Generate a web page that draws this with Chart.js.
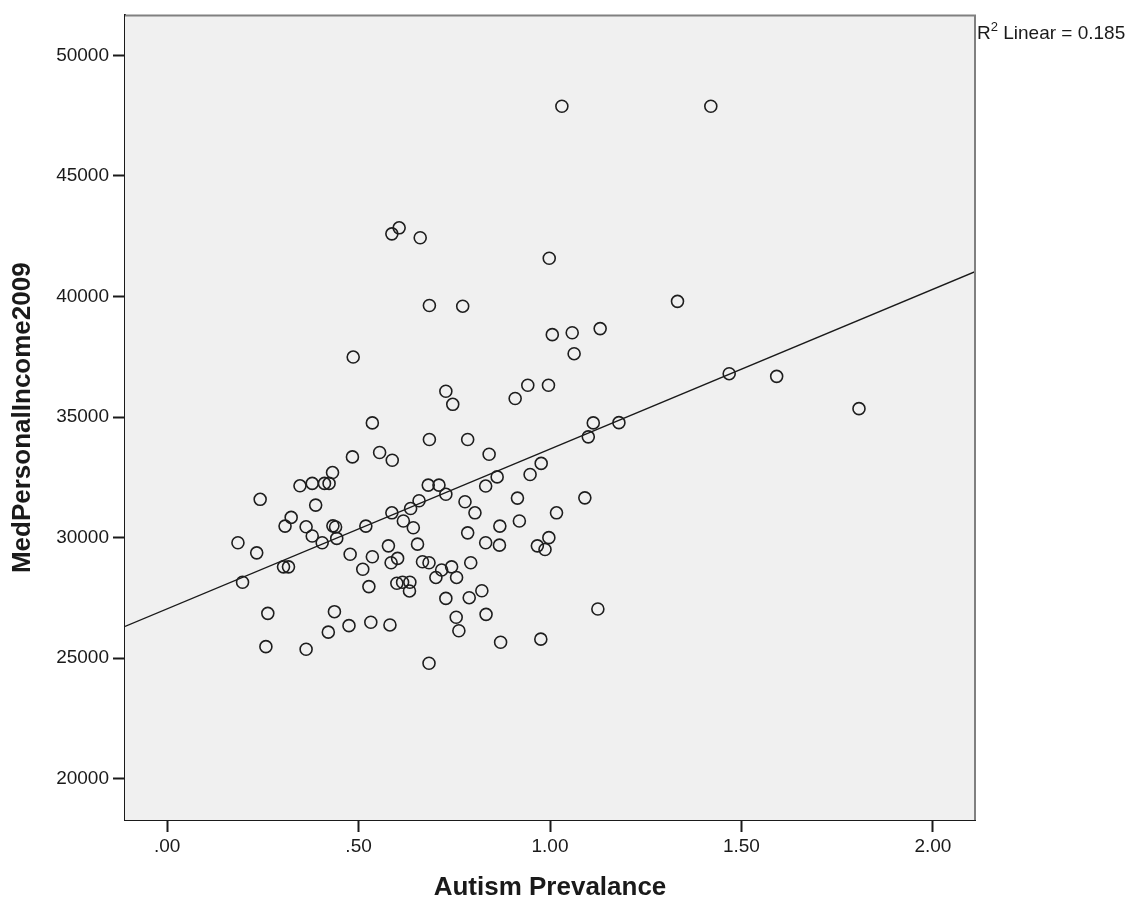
<!DOCTYPE html>
<html>
<head>
<meta charset="utf-8">
<script src="https://cdn.jsdelivr.net/npm/chart.js@4.4.1/dist/chart.umd.min.js"></script>
<style>
  body { margin: 0; background: #fff; }
  #wrap { width: 1136px; height: 901px; }
</style>
</head>
<body>
<div id="wrap"><canvas id="scatterChart" width="1136" height="901"></canvas></div>
<script>
// values
const autismPrev = [
  0.484, 0.555, 0.432, 0.347, 0.379, 0.411, 0.423, 0.243, 0.388, 0.324,
  0.308, 0.363, 0.433, 0.440, 0.519, 0.379, 0.405, 0.443, 0.185, 0.234,
  0.478, 0.536, 0.511, 0.304, 0.317, 0.197, 0.527, 0.263, 0.437, 0.475,
  0.421, 0.532, 0.258, 0.363, 0.685, 0.785, 0.588, 0.841, 0.977, 0.948,
  0.862, 0.832, 0.682, 0.710, 0.728, 0.658, 0.636, 0.587, 0.915, 0.778,
  0.804, 1.017, 0.617, 0.643, 0.920, 0.869, 0.785, 0.832, 0.868, 0.997,
  0.967, 0.987, 0.578, 0.654, 0.602, 0.585, 0.667, 0.684, 0.717, 0.743,
  0.793, 0.702, 0.756, 0.600, 0.615, 0.634, 0.633, 0.728, 0.789, 0.822,
  0.582, 0.755, 0.762, 0.833, 0.871, 0.976, 0.684, 0.996, 1.113, 1.180,
  1.100, 1.091, 1.125, 0.606, 0.587, 0.661, 0.998, 0.685, 0.772, 1.333,
  0.486, 1.006, 1.058, 1.131, 1.063, 0.728, 0.746, 0.909, 0.942, 0.536,
  1.031, 1.420, 1.468, 1.592, 1.807
];
const medIncome = [
  33350, 33530, 32700, 32150, 32250, 32250, 32250, 31590, 31350, 30840,
  30480, 30450, 30490, 30440, 30480, 30070, 29790, 29970, 29790, 29370,
  29310, 29210, 28690, 28790, 28790, 28150, 27970, 26860, 26930, 26350,
  26080, 26490, 25480, 25370, 34070, 34070, 33210, 33460, 33080, 32620,
  32520, 32140, 32180, 32180, 31800, 31530, 31210, 31030, 31640, 31490,
  31030, 31030, 30690, 30410, 30690, 30480, 30200, 29790, 29690, 30000,
  29660, 29510, 29660, 29730, 29140, 28960, 29000, 28960, 28660, 28790,
  28960, 28350, 28350, 28110, 28150, 28150, 27790, 27480, 27510, 27800,
  26380, 26700, 26140, 26820, 25660, 25790, 24790, 36320, 34760, 34770,
  34180, 31650, 27040, 42850, 42600, 42440, 41590, 39630, 39600, 39800,
  37490, 38420, 38500, 38670, 37630, 36070, 35530, 35770, 36320, 34760,
  47890, 47890, 36800, 36690, 35350
];

// linear fit line, endpoints at the plot edges
const fitX = [-0.11, 2.11];
const fitY = [26320, 41030];
const rSquared = 0.185;

const xTicks = [0, 0.5, 1.0, 1.5, 2.0];
const yTicks = [20000, 25000, 30000, 35000, 40000, 45000, 50000];

const FONT = '"Liberation Sans", Arial, sans-serif';

// grey plot area, grey top/right frame, R2 label
const plotFrame = {
  id: 'plotFrame',
  beforeDatasetsDraw(chart) {
    const { ctx, chartArea: a } = chart;
    ctx.save();
    ctx.fillStyle = '#f0f0f0';
    ctx.fillRect(a.left, a.top, a.right - a.left, a.bottom - a.top);
    ctx.restore();
  },
  afterDraw(chart) {
    const { ctx, chartArea: a } = chart;
    ctx.save();
    ctx.strokeStyle = '#808080';
    ctx.lineWidth = 2;
    ctx.beginPath();
    ctx.moveTo(a.left, a.top);
    ctx.lineTo(a.right, a.top);
    ctx.lineTo(a.right, a.bottom);
    ctx.stroke();

    // R² Linear label
    ctx.fillStyle = '#1a1a1a';
    ctx.textBaseline = 'alphabetic';
    ctx.textAlign = 'left';
    let x = a.right + 2;
    const base = 39;
    ctx.font = '19px ' + FONT;
    ctx.fillText('R', x, base);
    x += ctx.measureText('R').width;
    ctx.font = '13px ' + FONT;
    ctx.fillText('2', x, base - 8);
    x += ctx.measureText('2').width;
    ctx.font = '19px ' + FONT;
    ctx.fillText(' Linear = ' + rSquared.toFixed(3), x, base);
    ctx.restore();
  }
};

const ctx = document.getElementById('scatterChart').getContext('2d');

new Chart(ctx, {
  type: 'scatter',
  data: {
    datasets: [
      {
        label: 'MedPersonalIncome2009',
        data: autismPrev.map((v, i) => ({ x: v, y: medIncome[i] })),
        pointStyle: 'circle',
        pointRadius: 6,
        pointHoverRadius: 6,
        borderWidth: 1.6,
        borderColor: '#1e1e1e',
        backgroundColor: 'rgba(0,0,0,0)'
      },
      {
        type: 'line',
        label: 'Linear',
        data: fitX.map((v, i) => ({ x: v, y: fitY[i] })),
        borderColor: '#1a1a1a',
        borderWidth: 1.3,
        pointRadius: 0,
        fill: false
      }
    ]
  },
  options: {
    responsive: false,
    animation: false,
    layout: { padding: { top: 15, right: 161, bottom: 0, left: 0 } },
    plugins: {
      legend: { display: false },
      tooltip: { enabled: false }
    },
    scales: {
      x: {
        type: 'linear',
        min: -0.11,
        max: 2.11,
        afterBuildTicks: s => { s.ticks = xTicks.map(v => ({ value: v })); },
        afterFit: s => { s.height = 81; },
        border: { display: true, color: '#1a1a1a', width: 2 },
        grid: { drawOnChartArea: false, drawTicks: true, tickLength: 12, tickColor: '#1a1a1a', tickWidth: 2 },
        ticks: {
          padding: 3,
          color: '#1a1a1a',
          font: { family: FONT, size: 19 },
          maxRotation: 0,
          callback: v => v.toFixed(2).replace(/^0\./, '.')
        },
        title: {
          display: true,
          text: 'Autism Prevalance',
          color: '#1a1a1a',
          font: { family: FONT, size: 26, weight: 'bold', lineHeight: 1 },
          padding: { top: 0, bottom: 0 }
        }
      },
      y: {
        type: 'linear',
        min: 18290,
        max: 51660,
        afterBuildTicks: s => { s.ticks = yTicks.map(v => ({ value: v })); },
        afterFit: s => { s.width = 125; },
        border: { display: true, color: '#1a1a1a', width: 2 },
        grid: { drawOnChartArea: false, drawTicks: true, tickLength: 12, tickColor: '#1a1a1a', tickWidth: 2 },
        ticks: {
          padding: 4,
          color: '#1a1a1a',
          font: { family: FONT, size: 19 },
          callback: v => String(v)
        },
        title: {
          display: true,
          text: 'MedPersonalIncome2009',
          color: '#1a1a1a',
          font: { family: FONT, size: 26, weight: 'bold', lineHeight: 1 },
          padding: { top: 10, bottom: 0 }
        }
      }
    }
  },
  plugins: [plotFrame]
});
</script>
</body>
</html>
